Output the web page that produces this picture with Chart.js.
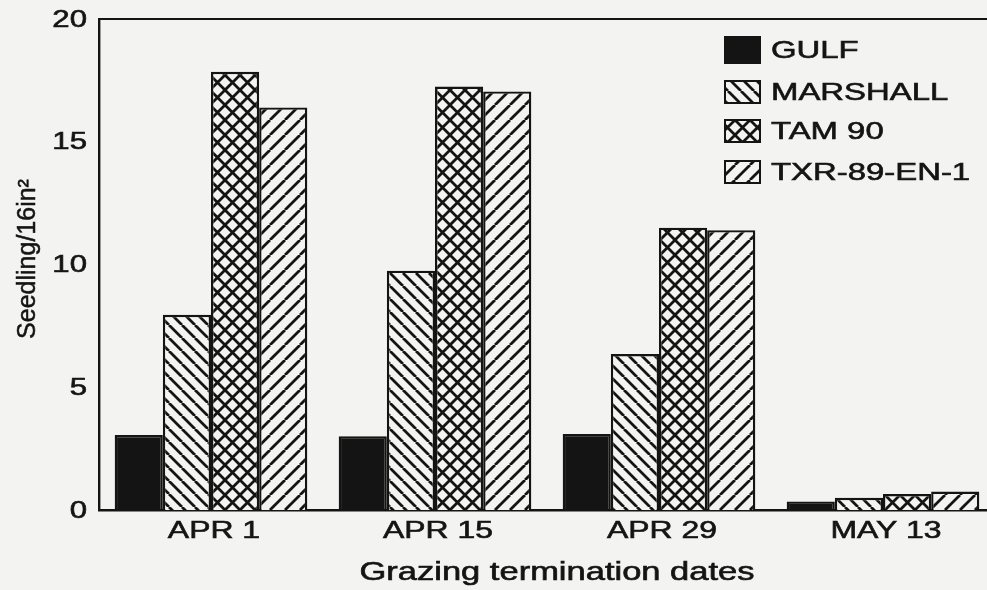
<!DOCTYPE html>
<html>
<head>
<meta charset="utf-8">
<script src="https://cdn.jsdelivr.net/npm/chart.js@4"></script>
<style>
  html, body { margin: 0; padding: 0; background: #f3f3f1; overflow: hidden; width: 987px; height: 590px; }
  #chart { position: absolute; left: 0; top: 0; }
</style>
</head>
<body>
<canvas id="chart" width="1000" height="590"></canvas>
<script>
const categories = ['APR 1', 'APR 15', 'APR 29', 'MAY 13'];
const gulf     = [3.05, 3.0, 3.1, 0.35];
const marshall = [7.95, 9.75, 6.35, 0.5];
const tam90    = [17.85, 17.25, 11.5, 0.65];
const txr      = [16.4, 17.05, 11.4, 0.75];
const yTicks   = [0, 5, 10, 15, 20];
const seriesNames = ['GULF', 'MARSHALL', 'TAM 90', 'TXR-89-EN-1'];

const INK = '#141414';
const BG  = '#f3f3f1';
const FONT = '"Liberation Sans", Arial, sans-serif';

// hatch tiles: 'back' = \\\ , 'fwd' = ///, 'cross' = both
function makeHatch(kind, s) {
  const c = document.createElement('canvas');
  c.width = s; c.height = s;
  const g = c.getContext('2d');
  g.fillStyle = BG;
  g.fillRect(0, 0, s, s);
  g.strokeStyle = INK;
  g.lineWidth = 2.8;
  g.beginPath();
  for (let k = -1; k <= 1; k++) {
    if (kind === 'back' || kind === 'cross') { g.moveTo(k * s, 0); g.lineTo(k * s + s, s); }
    if (kind === 'fwd'  || kind === 'cross') { g.moveTo(k * s, s); g.lineTo(k * s + s, 0); }
  }
  g.stroke();
  return g.createPattern(c, 'repeat');
}

const ctx = document.getElementById('chart').getContext('2d');
const fills = [INK, makeHatch('back', 13), makeHatch('cross', 15), makeHatch('fwd', 15)];

// stretched text, like the scanned original
function wideText(c, txt, x, y, size, sx, align) {
  c.save();
  c.translate(x, y);
  c.scale(sx, 1);
  c.font = `${size}px ${FONT}`;
  c.fillStyle = INK;
  c.strokeStyle = INK;
  c.lineWidth = 0.6;
  c.textAlign = align;
  c.textBaseline = 'middle';
  c.fillText(txt, 0, 0);
  c.strokeText(txt, 0, 0);
  c.restore();
}

const paperBg = {
  id: 'paperBg',
  beforeDraw(chart) {
    const c = chart.ctx;
    c.save();
    c.fillStyle = BG;
    c.fillRect(0, 0, chart.width, chart.height);
    c.restore();
  }
};

const labelsAndLegend = {
  id: 'labelsAndLegend',
  afterDraw(chart) {
    const c = chart.ctx;
    const a = chart.chartArea;
    const xs = chart.scales.x, ys = chart.scales.y;

    // top frame line
    c.save();
    c.strokeStyle = INK; c.lineWidth = 2;
    c.beginPath(); c.moveTo(a.left - 1, a.top); c.lineTo(a.right, a.top); c.stroke();
    c.restore();

    yTicks.forEach(v => wideText(c, String(v), 87, ys.getPixelForValue(v) + 1, 24, 1.3, 'right'));
    categories.forEach((lab, i) => wideText(c, lab, xs.getPixelForValue(i) + 3, 531, 24, 1.33, 'center'));
    wideText(c, 'Grazing termination dates', 557, 573, 25, 1.38, 'center');

    // y title, rotated
    c.save();
    c.translate(28, 259);
    c.rotate(-Math.PI / 2);
    c.font = `25px ${FONT}`;
    c.fillStyle = INK;
    c.strokeStyle = INK;
    c.lineWidth = 0.5;
    c.textAlign = 'center';
    c.textBaseline = 'middle';
    c.fillText('Seedling/16in\u00b2', 0, 0);
    c.strokeText('Seedling/16in\u00b2', 0, 0);
    c.restore();

    // legend
    const rows = [50, 92, 131, 172];
    chart.data.datasets.forEach((ds, i) => {
      const h = i === 0 ? 26 : 22;
      const top = rows[i] - h / 2;
      c.save();
      c.fillStyle = ds.backgroundColor;
      c.fillRect(725, top, 35, h);
      c.strokeStyle = INK; c.lineWidth = 2;
      c.strokeRect(725, top, 35, h);
      c.restore();
      wideText(c, ds.label, 771, rows[i] + 1, 24, 1.37, 'left');
    });
  }
};

new Chart(ctx, {
  type: 'bar',
  data: {
    labels: categories,
    datasets: [gulf, marshall, tam90, txr].map((d, i) => ({
      label: seriesNames[i],
      data: d,
      backgroundColor: fills[i],
      borderColor: INK,
      borderWidth: 2.4,
      categoryPercentage: 0.86,
      barPercentage: 1.0,
    })),
  },
  options: {
    responsive: false,
    animation: false,
    devicePixelRatio: 1,
    layout: { padding: { top: 19, right: 5, left: 0, bottom: 0 } },
    plugins: { legend: { display: false }, tooltip: { enabled: false } },
    scales: {
      x: {
        grid: { display: false, drawTicks: false },
        border: { color: INK, width: 2.4 },
        ticks: { display: false },
        afterFit(s) { s.height = 80; },
      },
      y: {
        min: 0, max: 20,
        ticks: { display: false, stepSize: 5 },
        grid: { display: false, drawTicks: false },
        border: { color: INK, width: 2.4 },
        afterFit(s) { s.width = 99; },
      },
    },
  },
  plugins: [paperBg, labelsAndLegend],
});
</script>
</body>
</html>
